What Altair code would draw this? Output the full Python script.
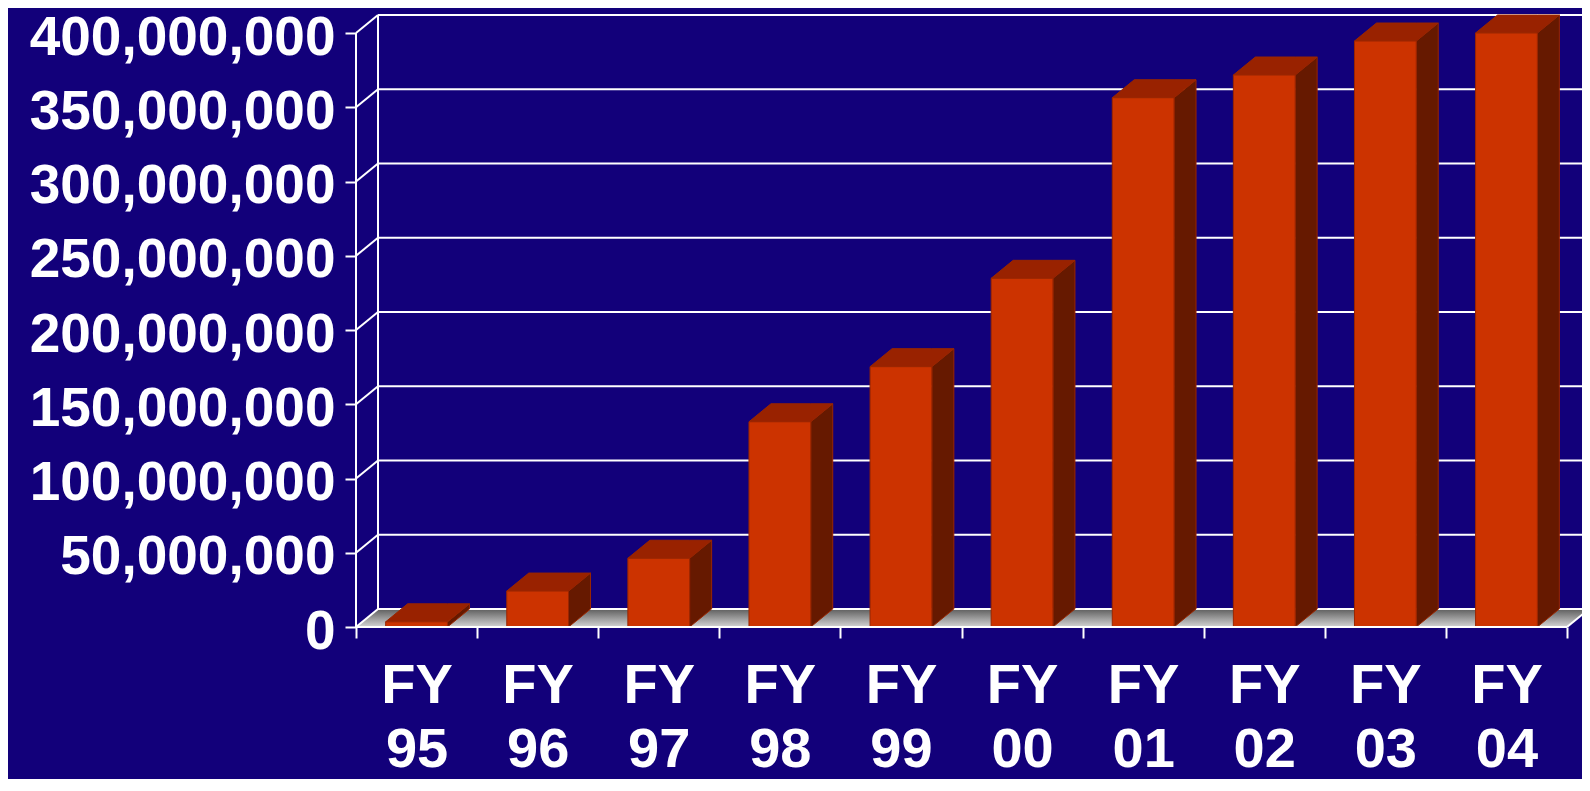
import json
import altair as alt
import pandas as pd

# ---- data ----
categories = ["FY 95", "FY 96", "FY 97", "FY 98", "FY 99",
              "FY 00", "FY 01", "FY 02", "FY 03", "FY 04"]
values = [3_500_000, 24_200_000, 46_300_000, 138_200_000, 175_300_000,
          234_800_000, 356_400_000, 371_700_000, 394_600_000, 400_000_000]
y_ticks = [0, 50_000_000, 100_000_000, 150_000_000, 200_000_000,
           250_000_000, 300_000_000, 350_000_000, 400_000_000]

# ---- style ----
BG = "#12007A"
FRONT = "#CC3300"
TOP = "#992200"
SIDE = "#661900"
EDGE = "#9A2600"
LINE = "#FFFFFF"
FONT = "Liberation Sans"

# ---- geometry (pixels -> data units) ----
n = len(categories)
cat_px = 121.1            # pixels per category on the front axis
px_per_y = 1.485e-6       # pixels per unit value
dx = 22 / cat_px          # depth offset, x
dy = 18 / px_per_y        # depth offset, y
xmax = n + dx
ymax = y_ticks[-1] + dy
W = round(xmax * cat_px)
H = round(ymax * px_per_y)
half = 0.255

xs = alt.Scale(domain=[0, xmax], nice=False, zero=False)
ys = alt.Scale(domain=[0, ymax], nice=False)

bars = pd.DataFrame({"cat": categories, "value": values, "i": list(range(n))})
bars["L"] = bars["i"] + 0.5 - half
bars["R"] = bars["i"] + 0.5 + half
bars["base"] = 0

side_rows, top_rows = [], []
for _, r in bars.iterrows():
    v = r["value"]
    side_rows += [dict(bar=r["cat"], x=r["R"], lo=0, hi=v),
                  dict(bar=r["cat"], x=r["R"] + dx, lo=dy, hi=v + dy)]
    top_rows += [dict(bar=r["cat"], x=r["L"], lo=v, hi=v),
                 dict(bar=r["cat"], x=r["L"] + dx, lo=v, hi=v + dy),
                 dict(bar=r["cat"], x=r["R"], lo=v, hi=v + dy),
                 dict(bar=r["cat"], x=r["R"] + dx, lo=v + dy, hi=v + dy)]
side_df = pd.DataFrame(side_rows)
top_df = pd.DataFrame(top_rows)

floor_df = pd.DataFrame([dict(x=0, lo=0, hi=0), dict(x=dx, lo=0, hi=dy),
                         dict(x=n, lo=0, hi=dy), dict(x=n + dx, lo=dy, hi=dy)])

wall_rows = []
for t in y_ticks:
    wall_rows.append(dict(x=dx, x2=n + dx, y=t + dy, y2=t + dy))
    wall_rows.append(dict(x=0, x2=dx, y=t, y2=t + dy))
wall_rows.append(dict(x=dx, x2=dx, y=dy, y2=ymax))
wall_rows.append(dict(x=n + dx, x2=n + dx, y=dy, y2=ymax))
wall_rows.append(dict(x=n, x2=n + dx, y=0, y2=dy))
wall_df = pd.DataFrame(wall_rows)
front_df = pd.DataFrame([dict(x=0, x2=0, y=0, y2=y_ticks[-1]),
                         dict(x=0, x2=n, y=0, y2=0)])

# ---- shared axes (identical in every layer so they merge into one) ----
label_lists = [c.split(" ") for c in categories]
label_expr = f"datum.value < {n} ? {json.dumps(label_lists)}[datum.value] : ''"

x_axis = alt.Axis(values=list(range(n + 1)), labelExpr=label_expr,
                  labelOffset=cat_px / 2, labelFlush=False, labelOverlap=False,
                  labelFont=FONT, labelFontSize=56, labelFontWeight="bold",
                  labelColor="white", labelPadding=20, labelLineHeight=64,
                  labelLimit=0,
                  tickColor=LINE, tickSize=11, tickWidth=2, orient="bottom",
                  domain=False, grid=False, title=None)
y_axis = alt.Axis(values=y_ticks, format=",.0f", labelFont=FONT, labelFontSize=55,
                  labelFontWeight="bold", labelColor="white", labelPadding=10,
                  labelOffset=4, labelOverlap=False, labelLimit=0, orient="left",
                  tickColor=LINE, tickSize=11, tickWidth=2,
                  domain=False, grid=False, title=None)


def X(f):
    return alt.X(f, scale=xs, axis=x_axis, title=None)


def Y(f):
    return alt.Y(f, scale=ys, axis=y_axis, title=None, stack=None)


floor = alt.Chart(floor_df).mark_area(
    orient="vertical",
    color=alt.Gradient(gradient="linear",
                       stops=[alt.GradientStop(color="#5E5E5E", offset=0),
                              alt.GradientStop(color="#D4D4D4", offset=1)],
                       x1=0, x2=0, y1=0, y2=1),
).encode(x=X("x:Q"), y=Y("lo:Q"), y2="hi:Q")

walls = alt.Chart(wall_df).mark_rule(color=LINE, strokeWidth=2).encode(
    x=X("x:Q"), x2="x2:Q", y=Y("y:Q"), y2="y2:Q")

sides = alt.Chart(side_df).mark_area(
    orient="vertical", color=SIDE, stroke=EDGE, strokeWidth=1
).encode(x=X("x:Q"), y=Y("lo:Q"), y2="hi:Q", detail="bar:N")

tops = alt.Chart(top_df).mark_area(
    orient="vertical", color=TOP, stroke=EDGE, strokeWidth=1
).encode(x=X("x:Q"), y=Y("lo:Q"), y2="hi:Q", detail="bar:N")

fronts = alt.Chart(bars).mark_rect(color=FRONT, stroke=EDGE, strokeWidth=1).encode(
    x=X("L:Q"), x2="R:Q", y=Y("value:Q"), y2="base:Q")

front_lines = alt.Chart(front_df).mark_rule(color=LINE, strokeWidth=2).encode(
    x=X("x:Q"), x2="x2:Q", y=Y("y:Q"), y2="y2:Q")

chart = alt.layer(floor, walls, sides, tops, fronts, front_lines).properties(
    width=W, height=H,
    autosize=alt.AutoSizeParams(type="none"),
    padding={"left": 348, "top": 7, "right": 1574 - 348 - W, "bottom": 771 - 7 - H},
    background=BG,
).configure_view(stroke=None)

chart.save("out.html", embed_options={"renderer": "svg", "actions": False})
